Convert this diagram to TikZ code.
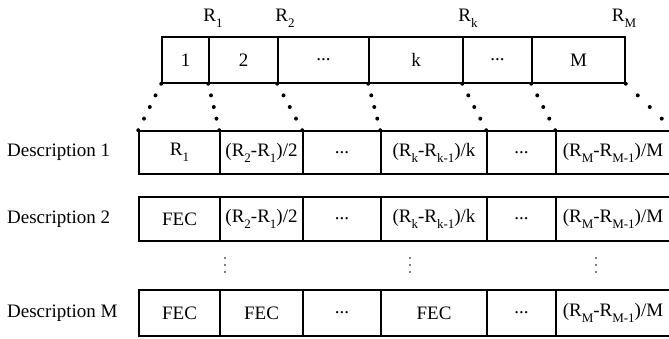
\documentclass[tikz,border=0pt]{standalone}
\usepackage{fontspec}
\setmainfont{Liberation Serif}
\usetikzlibrary{calc}
% lowered, smaller subscript as used in the rate labels
\newcommand\lsub[1]{\raisebox{-0.7ex}{\fontsize{13}{13}\selectfont #1}}
\tikzset{
  txt/.style={font=\fontsize{19}{21}\selectfont, inner sep=0pt},
  cell/.style={draw, line width=1.5pt, inner sep=0pt, font=\fontsize{19}{21}\selectfont},
}
% \mkcell{name}{x1}{x2}{y1}{y2}{text}
\newcommand\mkcell[6]{%
  \node[cell, minimum width={(#3-#2)*1pt}, minimum height={(#5-#4)*1pt}]
    (#1) at ({(#2+#3)/2},{(#4+#5)/2}) {#6};}
% dotted link of five round dots between two anchors
\newcommand\dotlink[2]{%
  \foreach \i in {0,1,2,3,4}{\fill ($(#1)!\i/4!(#2)$) circle (2pt);}}
% three stacked dots around a coordinate
\newcommand\vdotsat[1]{%
  \foreach \d in {-7,0,7}{\fill ($(#1)+(0,\d)$) circle (0.9pt);}}
\begin{document}
\begin{tikzpicture}[x=1pt,y=-1pt]
\useasboundingbox (0,0) rectangle (669,339);

% source layers
\mkcell{s1}{162}{209}{37}{83}{1}
\mkcell{s2}{209}{278}{37}{83}{2}
\mkcell{s3}{278}{369}{37}{83}{...}
\mkcell{s4}{369}{463}{37}{83}{k}
\mkcell{s5}{463}{532}{37}{83}{...}
\mkcell{s6}{532}{625}{37}{83}{M}

% cumulative rates
\node[txt] (ra) at (213,18) {R\lsub{1}};
\node[txt] (rb) at (285,18) {R\lsub{2}};
\node[txt] (rc) at (468,18) {R\lsub{k}};
\node[txt] (rd) at (624,18) {R\lsub{M}};

% description 1
\mkcell{a1}{139}{220}{131}{174}{R\lsub{1}}
\mkcell{a2}{220}{303}{131}{174}{(R\lsub{2}-R\lsub{1})/2}
\mkcell{a3}{303}{381}{131}{174}{...}
\mkcell{a4}{381}{487}{131}{174}{(R\lsub{k}-R\lsub{k-1})/k}
\mkcell{a5}{487}{556}{131}{174}{...}
\mkcell{a6}{556}{670}{131}{174}{(R\lsub{M}-R\lsub{M-1})/M}

% description 2
\mkcell{b1}{139}{220}{197}{241}{FEC}
\mkcell{b2}{220}{303}{197}{241}{(R\lsub{2}-R\lsub{1})/2}
\mkcell{b3}{303}{381}{197}{241}{...}
\mkcell{b4}{381}{487}{197}{241}{(R\lsub{k}-R\lsub{k-1})/k}
\mkcell{b5}{487}{556}{197}{241}{...}
\mkcell{b6}{556}{670}{197}{241}{(R\lsub{M}-R\lsub{M-1})/M}

% description M
\mkcell{c1}{139}{220}{290}{336}{FEC}
\mkcell{c2}{220}{303}{290}{336}{FEC}
\mkcell{c3}{303}{381}{290}{336}{...}
\mkcell{c4}{381}{487}{290}{336}{FEC}
\mkcell{c5}{487}{556}{290}{336}{...}
\mkcell{c6}{556}{670}{290}{336}{(R\lsub{M}-R\lsub{M-1})/M}

% row labels
\node[txt, anchor=west] (la) at (7,152.5) {Description 1};
\node[txt, anchor=west] (lb) at (7,219) {Description 2};
\node[txt, anchor=west] (lc) at (7,313) {Description M};

% vertical continuation dots
\coordinate (v1) at (225,265);
\coordinate (v2) at (410,265);
\coordinate (v3) at (596,265);
\vdotsat{v1}
\vdotsat{v2}
\vdotsat{v3}

% mapping of layer boundaries onto the description cells
\dotlink{s1.south west}{a1.north west}
\dotlink{s2.south west}{a2.north west}
\dotlink{s3.south west}{a3.north west}
\dotlink{s4.south west}{a4.north west}
\dotlink{s5.south west}{a5.north west}
\dotlink{s6.south west}{a6.north west}
\coordinate (rend) at ($(a6.north east)+(3,0)$);
\dotlink{s6.south east}{rend}
\end{tikzpicture}
\end{document}
